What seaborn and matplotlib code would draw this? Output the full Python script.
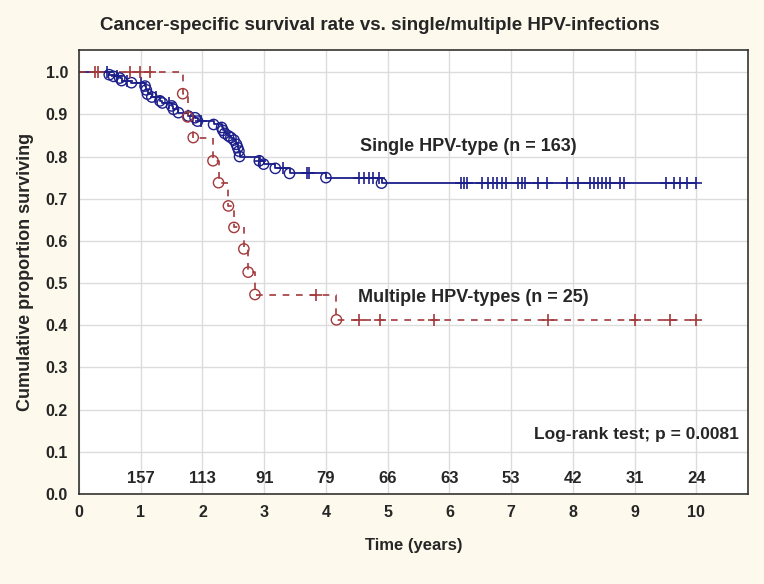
import numpy as np
import pandas as pd
import seaborn as sns
import matplotlib.pyplot as plt

# Kaplan-Meier estimates
single_event_t = [0.49, 0.56, 0.66, 0.69, 0.85, 1.07, 1.09, 1.11, 1.18, 1.31, 1.35, 1.50,
                  1.53, 1.61, 1.77, 1.88, 1.92, 2.18, 2.31, 2.33, 2.36, 2.42, 2.46, 2.51,
                  2.55, 2.57, 2.59, 2.60, 2.92, 2.99, 3.18, 3.41, 4.00, 4.90]
single_event_s = [0.994, 0.990, 0.986, 0.980, 0.975, 0.967, 0.958, 0.948, 0.941, 0.932, 0.927, 0.920,
                  0.912, 0.904, 0.896, 0.892, 0.884, 0.876, 0.869, 0.862, 0.855, 0.849, 0.845, 0.839,
                  0.829, 0.821, 0.813, 0.800, 0.790, 0.782, 0.772, 0.760, 0.750, 0.737]
single_cens_t = [0.45, 0.62, 0.78, 1.00, 1.25, 1.45, 1.98, 2.93, 3.30, 3.69, 3.73,
                 4.53, 4.61, 4.69, 4.77, 4.86,
                 6.18, 6.23, 6.28, 6.53, 6.63, 6.71, 6.77, 6.85, 6.92, 7.11, 7.17, 7.23,
                 7.44, 7.58, 7.91, 8.09, 8.27, 8.34, 8.40, 8.47, 8.54, 8.60, 8.77, 8.83,
                 9.51, 9.63, 9.74, 9.84, 9.99]

multi_event_t = [1.68, 1.76, 1.85, 2.17, 2.26, 2.42, 2.51, 2.67, 2.74, 2.85, 4.17]
multi_event_s = [0.949, 0.894, 0.845, 0.790, 0.738, 0.683, 0.632, 0.581, 0.526, 0.473, 0.413]
multi_cens_t = [0.26, 0.31, 0.83, 0.99, 1.15, 3.84, 4.53, 4.87, 5.75, 7.59, 9.00, 9.58, 9.99]

# numbers at risk
risk_years = [1, 2, 3, 4, 5, 6, 7, 8, 9, 10]
risk_counts = [157, 113, 91, 79, 66, 63, 53, 42, 31, 24]

blue = "#1c1f8a"
red = "#a3393b"
bold = dict(fontweight="bold", family=["Liberation Sans", "DejaVu Sans"])


def step_frame(ev_t, ev_s, cens_t):
    t = [0.0] + list(ev_t) + [max(cens_t)]
    s = [1.0] + list(ev_s) + [ev_s[-1]]
    return pd.DataFrame({"t": t, "s": s})


def cens_frame(ev_t, ev_s, cens_t):
    idx = np.searchsorted(ev_t, cens_t, side="right")
    s = [1.0 if i == 0 else ev_s[i - 1] for i in idx]
    return pd.DataFrame({"t": cens_t, "s": s})


sns.set_style("white")
fig = plt.figure(figsize=(7.64, 5.84), dpi=100, facecolor="#fdf9ec")
ax = fig.add_axes([0.1034, 0.154, 0.876, 0.760])
ax.set_facecolor("white")

# Single HPV-type
sns.lineplot(data=step_frame(single_event_t, single_event_s, single_cens_t), x="t", y="s",
             drawstyle="steps-post", estimator=None, sort=False, color=blue, lw=1.3, ax=ax)
sns.scatterplot(data=pd.DataFrame({"t": single_event_t, "s": single_event_s}), x="t", y="s",
                marker="o", s=55, facecolor="none", edgecolor=blue, linewidth=1.0, ax=ax, zorder=3)
sns.scatterplot(data=cens_frame(single_event_t, single_event_s, single_cens_t), x="t", y="s",
                marker="+", s=80, color=blue, linewidth=1.2, ax=ax, zorder=3)

# Multiple HPV-types
sns.lineplot(data=step_frame(multi_event_t, multi_event_s, multi_cens_t), x="t", y="s",
             drawstyle="steps-post", estimator=None, sort=False, color=red, lw=1.2,
             linestyle=(0, (4, 4)), ax=ax)
sns.scatterplot(data=pd.DataFrame({"t": multi_event_t, "s": multi_event_s}), x="t", y="s",
                marker="o", s=55, facecolor="none", edgecolor=red, linewidth=1.0, ax=ax, zorder=3)
sns.scatterplot(data=cens_frame(multi_event_t, multi_event_s, multi_cens_t), x="t", y="s",
                marker="+", s=80, color=red, linewidth=1.2, ax=ax, zorder=3)

for yr, n in zip(risk_years, risk_counts):
    ax.text(yr, 0.036, str(n), ha="center", va="center", fontsize=12, **bold)

ax.text(4.55, 0.823, "Single HPV-type (n = 163)", ha="left", va="center", fontsize=13, **bold)
ax.text(4.52, 0.466, "Multiple HPV-types (n = 25)", ha="left", va="center", fontsize=13, **bold)
ax.text(10.68, 0.14, "Log-rank test; p = 0.0081", ha="right", va="center", fontsize=12.5, **bold)

ax.set_xlim(0, 10.84)
ax.set_ylim(0, 1.052)
ax.set_xticks(range(0, 11))
ax.set_yticks(np.arange(0, 1.01, 0.1))
ax.set_yticklabels([f"{v:.1f}" for v in np.arange(0, 1.01, 0.1)])
ax.grid(True, color="#dcdcdc", lw=1.0)
ax.set_axisbelow(True)
ax.tick_params(direction="in", length=4, width=1, color="#555555", pad=8)
for lab in ax.get_xticklabels() + ax.get_yticklabels():
    lab.set_fontsize(11.5)
    lab.set_fontweight("bold")
    lab.set_family(["Liberation Sans", "DejaVu Sans"])
for sp in ax.spines.values():
    sp.set_color("#333333")
    sp.set_linewidth(1.2)

ax.set_xlabel("Time (years)", fontsize=12, labelpad=13, **bold)
ax.set_ylabel("Cumulative proportion surviving", fontsize=13, labelpad=8, **bold)
fig.text(0.497, 0.957, "Cancer-specific survival rate vs. single/multiple HPV-infections",
         ha="center", va="center", fontsize=13.5, **bold)

plt.savefig("out.png", dpi=100, facecolor=fig.get_facecolor())
